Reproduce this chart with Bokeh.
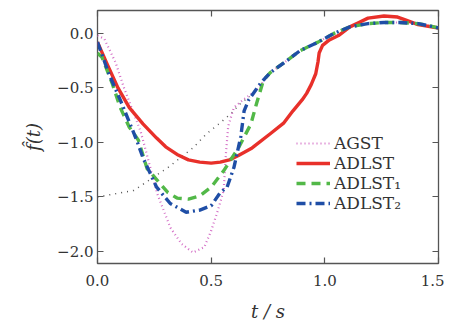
from bokeh.plotting import figure
from bokeh.models import LinearAxis, FixedTicker, CustomJSTickFormatter, Legend, LegendItem
from bokeh.embed import file_html
from bokeh.resources import INLINE

# ---- data ----
agst_t = [0.0, 0.03, 0.08, 0.115, 0.19, 0.263, 0.32, 0.37, 0.42, 0.47, 0.50, 0.53, 0.555, 0.565, 0.575,
          0.60, 0.64, 0.70, 0.76, 0.82, 0.89, 0.97, 1.04, 1.11, 1.19, 1.26, 1.33, 1.41, 1.48, 1.50]
agst_f = [-0.02, -0.05, -0.27, -0.49, -0.90, -1.47, -1.78, -1.93, -2.01, -1.96, -1.81, -1.62, -1.44, -1.10, -0.85,
          -0.68, -0.61, -0.52, -0.36, -0.27, -0.16, -0.08, 0.0, 0.06, 0.09, 0.10, 0.10, 0.09, 0.06, 0.05]

adlst_t = [0.0, 0.04, 0.09, 0.14, 0.20, 0.26, 0.30, 0.35, 0.40, 0.45, 0.50, 0.54, 0.58, 0.62, 0.68, 0.76,
           0.82, 0.86, 0.90, 0.92, 0.94, 0.96, 0.97, 0.975, 0.99, 1.02, 1.06, 1.11, 1.15, 1.19, 1.26,
           1.32, 1.36, 1.41, 1.50]
adlst_f = [-0.08, -0.27, -0.50, -0.68, -0.83, -0.96, -1.04, -1.11, -1.16, -1.18, -1.19, -1.18, -1.16, -1.12, -1.05, -0.92,
           -0.82, -0.71, -0.61, -0.55, -0.47, -0.37, -0.26, -0.18, -0.11, -0.06, -0.02, 0.06, 0.10, 0.14, 0.16,
           0.15, 0.12, 0.08, 0.05]

adlst1_t = [0.0, 0.02, 0.065, 0.10, 0.14, 0.18, 0.218, 0.26, 0.31, 0.35, 0.40, 0.45, 0.50, 0.555, 0.62, 0.675, 0.70,
            0.73, 0.76, 0.82, 0.89, 0.97, 1.04, 1.11, 1.19, 1.26, 1.33, 1.41, 1.48, 1.50]
adlst1_f = [-0.18, -0.22, -0.46, -0.68, -0.86, -0.98, -1.24, -1.34, -1.46, -1.51, -1.52, -1.49, -1.41, -1.26, -1.05, -0.83, -0.64,
            -0.43, -0.36, -0.27, -0.16, -0.08, 0.0, 0.06, 0.09, 0.10, 0.10, 0.09, 0.06, 0.05]

adlst2_t = [0.0, 0.05, 0.10, 0.155, 0.176, 0.20, 0.26, 0.32, 0.39, 0.45, 0.50, 0.54, 0.57, 0.60, 0.63, 0.645, 0.665,
            0.72, 0.76, 0.82, 0.89, 0.97, 1.04, 1.11, 1.19, 1.26, 1.33, 1.41, 1.48, 1.50]
adlst2_f = [-0.08, -0.37, -0.61, -0.89, -1.00, -1.14, -1.41, -1.56, -1.64, -1.62, -1.58, -1.46, -1.41, -1.23, -0.95, -0.71, -0.61,
            -0.45, -0.36, -0.27, -0.16, -0.08, 0.0, 0.06, 0.09, 0.10, 0.10, 0.09, 0.06, 0.05]

ref_t = [0.0, 0.16, 0.31, 0.42, 0.48, 0.54, 0.59, 0.63, 0.67]
ref_f = [-1.50, -1.44, -1.23, -1.05, -0.92, -0.82, -0.73, -0.64, -0.58]

x_ticks = [0.0, 0.5, 1.0, 1.5]
y_ticks = [0.0, -0.5, -1.0, -1.5, -2.0]

series_names = ["AGST", "ADLST", "ADLST\u2081", "ADLST\u2082"]

FONT = "DejaVu Serif"
AX = "#555555"

p = figure(frame_width=341, frame_height=253, output_backend="svg", toolbar_location=None,
           x_range=(0.0, 1.5), y_range=(-2.11, 0.21),
           min_border_left=97, min_border_right=6, min_border_top=10, min_border_bottom=50)
p.background_fill_color = "white"
p.border_fill_color = "white"
p.grid.visible = False
p.outline_line_color = AX
p.outline_line_width = 1.3

fmt = CustomJSTickFormatter(code="return tick.toFixed(1).replace('-', '\u2212');")
blank = CustomJSTickFormatter(code="return '';")

def style_axis(ax):
    ax.axis_line_color = None
    ax.major_tick_in = 6
    ax.major_tick_out = 0
    ax.major_tick_line_color = AX
    ax.major_tick_line_width = 1.2
    ax.minor_tick_line_color = None
    ax.major_label_text_font = FONT
    ax.major_label_text_color = "#333333"
    ax.major_label_text_font_size = "15px"

p.xaxis.ticker = FixedTicker(ticks=x_ticks)
p.yaxis.ticker = FixedTicker(ticks=y_ticks)
p.xaxis.formatter = fmt
p.yaxis.formatter = fmt
style_axis(p.xaxis[0])
style_axis(p.yaxis[0])
p.xaxis.major_label_standoff = 11
p.yaxis.major_label_standoff = 4

p.xaxis.axis_label = "t / s"
p.xaxis.axis_label_text_font = FONT
p.xaxis.axis_label_text_font_style = "italic"
p.xaxis.axis_label_text_font_size = "18px"
p.xaxis.axis_label_text_color = "#333333"
p.xaxis.axis_label_standoff = 12

p.yaxis.axis_label = "f\u0302(t)"
p.yaxis.axis_label_text_font = FONT
p.yaxis.axis_label_text_font_style = "italic"
p.yaxis.axis_label_text_font_size = "18px"
p.yaxis.axis_label_text_color = "#333333"
p.yaxis.axis_label_standoff = 10

top = LinearAxis(ticker=FixedTicker(ticks=x_ticks), formatter=blank)
style_axis(top)
top.major_label_standoff = 0
p.add_layout(top, "above")
right = LinearAxis(ticker=FixedTicker(ticks=y_ticks), formatter=blank)
style_axis(right)
right.major_label_standoff = 0
p.add_layout(right, "right")

# reference dotted curve (no legend entry)
p.line(ref_t, ref_f, line_color="#555555", line_width=1.5, line_dash="1 5")

r1 = p.line(agst_t, agst_f, line_color="#d46fc6", line_width=2.2, line_dash="1 3")
r2 = p.line(adlst_t, adlst_f, line_color="#e8302a", line_width=3.4, line_join="round")
r3 = p.line(adlst1_t, adlst1_f, line_color="#52b848", line_width=3.4, line_dash="9 6")
r4 = p.line(adlst2_t, adlst2_f, line_color="#1f4ea6", line_width=3.4, line_dash="9 4 2 4")

legend = Legend(items=[LegendItem(label=series_names[0], renderers=[r1]),
                       LegendItem(label=series_names[1], renderers=[r2]),
                       LegendItem(label=series_names[2], renderers=[r3]),
                       LegendItem(label=series_names[3], renderers=[r4])],
                location=(199, 50))
legend.background_fill_alpha = 0
legend.border_line_color = None
legend.label_text_font = FONT
legend.label_text_font_size = "17px"
legend.label_text_color = "#333333"
legend.glyph_width = 34
legend.glyph_height = 16
legend.label_height = 16
legend.label_standoff = 4
legend.spacing = -3
legend.padding = 2
legend.margin = 0
p.add_layout(legend, "center")

open("out.html", "w").write(file_html(p, INLINE))
